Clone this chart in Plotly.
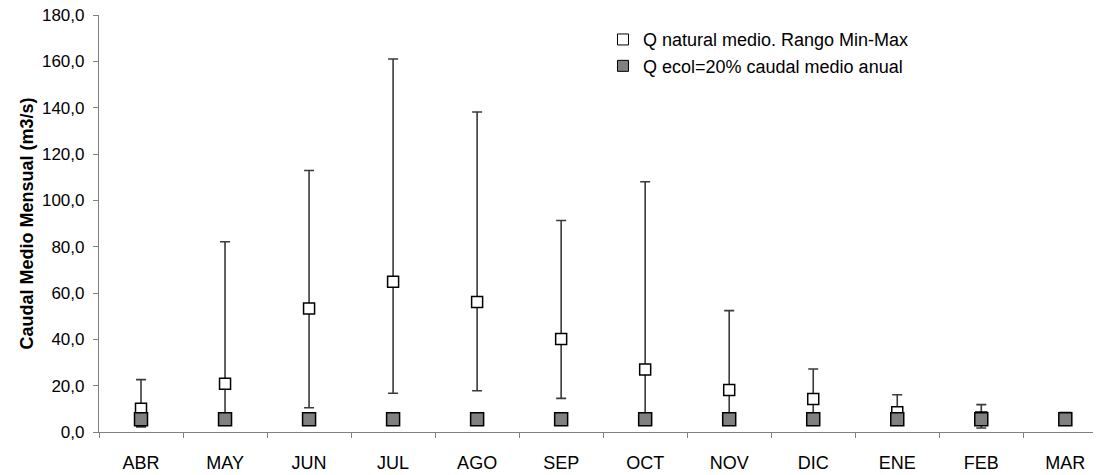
import plotly.graph_objects as go

months = ["ABR", "MAY", "JUN", "JUL", "AGO", "SEP", "OCT", "NOV", "DIC", "ENE", "FEB", "MAR"]
q_mean = [10.0, 20.8, 53.3, 64.9, 56.1, 40.1, 27.0, 18.1, 14.2, 8.5, 6.3, 6.0]
q_max = [22.6, 82.1, 112.9, 161.0, 138.1, 91.3, 108.0, 52.4, 27.2, 16.1, 11.8, 7.8]
q_min = [2.2, 5.0, 10.5, 16.7, 17.8, 14.5, 5.0, 4.5, 4.5, 4.0, 1.7, 5.0]
q_ecol = [5.5] * 12

name_nat = "Q natural medio. Rango Min-Max"
name_ecol = "Q ecol=20% caudal medio anual"

err_plus = [mx - m for mx, m in zip(q_max, q_mean)]
err_minus = [m - mn for m, mn in zip(q_mean, q_min)]

FONT = "Liberation Sans, Arial, sans-serif"

fig = go.Figure()
fig.add_trace(go.Scatter(
    x=months, y=q_mean, mode="markers", name=name_nat, showlegend=False,
    marker=dict(symbol="square", size=11, color="white", line=dict(color="black", width=1.5)),
    error_y=dict(type="data", symmetric=False, array=err_plus, arrayminus=err_minus,
                 color="#3a3a3a", thickness=1.6, width=5),
))
fig.add_trace(go.Scatter(
    x=months, y=q_ecol, mode="markers", name=name_ecol, showlegend=False,
    marker=dict(symbol="square", size=13, color="#808080", line=dict(color="black", width=1.5)),
))
# legend entries
fig.add_trace(go.Scatter(
    x=[None], y=[None], mode="markers", name=name_nat, legendgroup="a",
    marker=dict(symbol="square", size=11, color="white", line=dict(color="black", width=1)),
))
fig.add_trace(go.Scatter(
    x=[None], y=[None], mode="markers", name=name_ecol, legendgroup="b",
    marker=dict(symbol="square", size=11, color="#808080", line=dict(color="black", width=1)),
))

fig.update_layout(
    width=1101, height=475,
    margin=dict(l=91, r=0, t=7, b=51),
    paper_bgcolor="white", plot_bgcolor="white",
    separators=", ",
    font=dict(family=FONT, size=18, color="black"),
    showlegend=True,
    legend=dict(x=0.499, y=0.985, xanchor="left", yanchor="top",
                bgcolor="rgba(0,0,0,0)", font=dict(size=18, family=FONT),
                traceorder="grouped", tracegroupgap=0, itemwidth=30),
    xaxis=dict(
        type="category", categoryorder="array", categoryarray=months,
        range=[-0.5, 11.52], showgrid=False, zeroline=False, automargin=False,
        showline=True, linecolor="#808080", linewidth=1.2,
        ticks="outside", tickson="boundaries", ticklen=5, tickcolor="#808080",
        ticklabelstandoff=14, tickfont=dict(size=18, family=FONT),
        ticklabeloverflow="allow",
    ),
    yaxis=dict(
        range=[0, 180], tickvals=[0, 20, 40, 60, 80, 100, 120, 140, 160, 180],
        tickformat=".1f", showgrid=False, zeroline=False, automargin=False,
        showline=True, linecolor="#808080", linewidth=1.2,
        ticks="outside", ticklen=5, tickcolor="#808080",
        ticklabelstandoff=5, tickfont=dict(size=17, family=FONT),
        ticklabeloverflow="allow",
        title=dict(text="<b>Caudal Medio Mensual (m3/s)</b>", font=dict(size=18, family=FONT), standoff=3),
    ),
)

fig.write_html("out.html")
